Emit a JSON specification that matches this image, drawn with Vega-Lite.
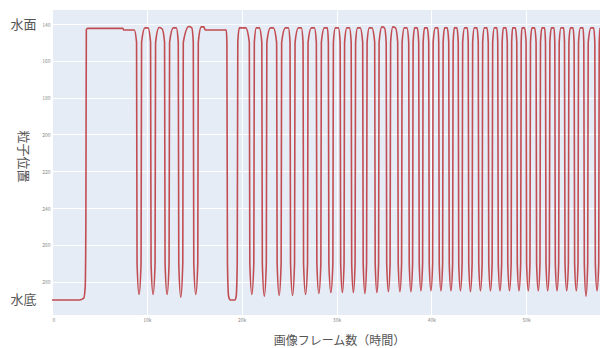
{
  "$schema": "https://vega.github.io/schema/vega-lite/v6.json",
  "autosize": "none",
  "padding": {"left": 52, "top": 10, "right": 0, "bottom": 33},
  "width": 548,
  "height": 305,
  "background": "white",
  "config": {
    "view": {"stroke": null, "fill": "#E5ECF6"},
    "font": "Noto Sans CJK JP"
  },
  "data": {"values": [
    {"f":0,"p":290},{"f":2900,"p":290},{"f":3350,"p":289},{"f":3500,"p":283},{"f":3570,"p":250},{"f":3620,"p":143},{"f":3750,"p":142.3},
    {"f":7459,"p":142.3},{"f":7564,"p":143.2},{"f":8672,"p":143.2},
    {"f":8915,"p":150},{"f":8968,"p":270},{"f":9179,"p":287},{"f":9390,"p":270},{"f":9443,"p":150},
    {"f":9801,"p":142},{"f":10117,"p":142},
    {"f":10392,"p":150},{"f":10445,"p":270},{"f":10656,"p":287},{"f":10867,"p":270},{"f":10920,"p":150},
    {"f":11289,"p":141.8},{"f":11605,"p":142.5},
    {"f":11869,"p":150},{"f":11922,"p":270},{"f":12133,"p":287},{"f":12344,"p":270},{"f":12397,"p":150},
    {"f":12787,"p":142},{"f":13103,"p":142},
    {"f":13314,"p":150},{"f":13367,"p":270},{"f":13578,"p":288.5},{"f":13789,"p":270},{"f":13842,"p":150},
    {"f":14422,"p":141.3},{"f":14738,"p":142},
    {"f":14896,"p":150},{"f":14949,"p":270},{"f":15160,"p":287},{"f":15371,"p":270},{"f":15424,"p":150},
    {"f":15741,"p":141.5},{"f":16004,"p":141.5},{"f":16163,"p":143.2},{"f":18378,"p":143.2},
    {"f":18440,"p":150},{"f":18500,"p":270},{"f":18620,"p":288},{"f":18800,"p":290},{"f":19275,"p":290},{"f":19420,"p":288},{"f":19530,"p":270},{"f":19590,"p":150},
    {"f":19750,"p":142},{"f":20435,"p":142},
    {"f":20804,"p":150},{"f":20857,"p":270},{"f":21068,"p":287},{"f":21279,"p":270},{"f":21332,"p":150},
    {"f":21543,"p":142},{"f":21860,"p":142},
    {"f":22123,"p":150},{"f":22176,"p":270},{"f":22387,"p":288},{"f":22598,"p":270},{"f":22651,"p":150},
    {"f":23020,"p":142},{"f":23337,"p":142},
    {"f":23685,"p":150},{"f":23738,"p":270},{"f":23949,"p":287.5},{"f":24160,"p":270},{"f":24213,"p":150},
    {"f":24603,"p":142},{"f":24919,"p":142},
    {"f":25098,"p":150},{"f":25151,"p":270},{"f":25362,"p":287.5},{"f":25573,"p":270},{"f":25626,"p":150},
    {"f":25974,"p":142},{"f":26291,"p":142},
    {"f":26470,"p":150},{"f":26523,"p":270},{"f":26734,"p":287},{"f":26945,"p":270},{"f":26998,"p":150},
    {"f":27346,"p":142},{"f":27662,"p":142},
    {"f":27873,"p":150},{"f":27926,"p":270},{"f":28137,"p":286.5},{"f":28348,"p":270},{"f":28401,"p":150},
    {"f":28717,"p":142},{"f":29034,"p":142},
    {"f":29139,"p":150},{"f":29192,"p":270},{"f":29403,"p":286},{"f":29614,"p":270},{"f":29667,"p":150},
    {"f":29878,"p":142},{"f":30194,"p":142},
    {"f":30384,"p":150},{"f":30437,"p":270},{"f":30616,"p":286},{"f":30795,"p":270},{"f":30848,"p":150},
    {"f":31091,"p":142},{"f":31365,"p":142},
    {"f":31545,"p":150},{"f":31598,"p":270},{"f":31777,"p":286},{"f":31956,"p":270},{"f":32009,"p":150},
    {"f":32220,"p":142},{"f":32494,"p":142},
    {"f":32758,"p":150},{"f":32811,"p":270},{"f":32990,"p":286.5},{"f":33169,"p":270},{"f":33222,"p":150},
    {"f":33454,"p":142},{"f":33728,"p":142},
    {"f":34024,"p":150},{"f":34077,"p":270},{"f":34256,"p":286},{"f":34435,"p":270},{"f":34488,"p":150},
    {"f":34783,"p":141.5},{"f":35058,"p":142},
    {"f":35237,"p":150},{"f":35290,"p":270},{"f":35469,"p":285.5},{"f":35648,"p":270},{"f":35701,"p":150},
    {"f":35944,"p":141.5},{"f":36218,"p":142},
    {"f":36450,"p":150},{"f":36503,"p":270},{"f":36682,"p":285.5},{"f":36861,"p":270},{"f":36914,"p":150},
    {"f":37147,"p":142},{"f":37421,"p":142},
    {"f":37611,"p":150},{"f":37664,"p":270},{"f":37843,"p":285.5},{"f":38022,"p":270},{"f":38075,"p":150},
    {"f":38233,"p":142},{"f":38508,"p":142},
    {"f":38666,"p":150},{"f":38719,"p":270},{"f":38898,"p":285},{"f":39077,"p":270},{"f":39130,"p":150},
    {"f":39288,"p":142},{"f":39563,"p":142},
    {"f":39721,"p":150},{"f":39774,"p":270},{"f":39953,"p":285},{"f":40132,"p":270},{"f":40185,"p":150},
    {"f":40417,"p":142},{"f":40691,"p":142},
    {"f":40776,"p":150},{"f":40829,"p":270},{"f":41008,"p":285},{"f":41187,"p":270},{"f":41240,"p":150},
    {"f":41398,"p":142},{"f":41673,"p":142},
    {"f":41831,"p":150},{"f":41884,"p":270},{"f":42063,"p":285},{"f":42242,"p":270},{"f":42295,"p":150},
    {"f":42422,"p":142},{"f":42696,"p":142},
    {"f":42833,"p":150},{"f":42886,"p":270},{"f":43065,"p":285},{"f":43244,"p":270},{"f":43297,"p":150},
    {"f":43508,"p":142},{"f":43783,"p":142},
    {"f":43888,"p":150},{"f":43941,"p":270},{"f":44120,"p":285.5},{"f":44299,"p":270},{"f":44352,"p":150},
    {"f":44532,"p":142},{"f":44806,"p":142},
    {"f":44943,"p":150},{"f":44996,"p":270},{"f":45175,"p":285},{"f":45354,"p":270},{"f":45407,"p":150},
    {"f":45587,"p":142},{"f":45861,"p":142},
    {"f":45998,"p":150},{"f":46051,"p":270},{"f":46230,"p":285},{"f":46409,"p":270},{"f":46462,"p":150},
    {"f":46642,"p":142},{"f":46916,"p":142},
    {"f":47000,"p":150},{"f":47053,"p":270},{"f":47232,"p":285},{"f":47411,"p":270},{"f":47464,"p":150},
    {"f":47591,"p":142},{"f":47865,"p":142},
    {"f":48003,"p":150},{"f":48056,"p":270},{"f":48235,"p":285},{"f":48414,"p":270},{"f":48467,"p":150},
    {"f":48572,"p":142},{"f":48847,"p":142},
    {"f":49005,"p":150},{"f":49058,"p":270},{"f":49237,"p":285},{"f":49416,"p":270},{"f":49469,"p":150},
    {"f":49553,"p":142},{"f":49828,"p":142},
    {"f":49986,"p":150},{"f":50039,"p":270},{"f":50218,"p":285},{"f":50397,"p":270},{"f":50450,"p":150},
    {"f":50608,"p":142},{"f":50883,"p":142},
    {"f":51041,"p":150},{"f":51094,"p":270},{"f":51273,"p":285},{"f":51452,"p":270},{"f":51505,"p":150},
    {"f":51663,"p":142},{"f":51938,"p":142},
    {"f":52033,"p":150},{"f":52086,"p":270},{"f":52265,"p":285},{"f":52444,"p":270},{"f":52497,"p":150},
    {"f":52655,"p":142},{"f":52929,"p":142},
    {"f":53014,"p":150},{"f":53067,"p":270},{"f":53246,"p":285},{"f":53425,"p":270},{"f":53478,"p":150},
    {"f":53668,"p":142},{"f":53942,"p":142},
    {"f":54037,"p":150},{"f":54090,"p":270},{"f":54269,"p":285},{"f":54448,"p":270},{"f":54501,"p":150},
    {"f":54660,"p":142},{"f":54934,"p":142},
    {"f":55050,"p":150},{"f":55103,"p":270},{"f":55282,"p":285},{"f":55461,"p":270},{"f":55514,"p":150},
    {"f":55715,"p":142},{"f":55989,"p":142},
    {"f":56073,"p":150},{"f":56126,"p":270},{"f":56305,"p":288},{"f":56484,"p":270},{"f":56537,"p":150},
    {"f":56833,"p":142},{"f":57107,"p":142},
    {"f":57234,"p":150},{"f":57287,"p":270},{"f":57466,"p":285},{"f":57645,"p":270},{"f":57698,"p":150},
    {"f":57800,"p":142}
  ]},
  "resolve": {"axis": {"y": "independent"}},
  "layer": [
    {
      "mark": {"type": "line", "interpolate": "monotone", "clip": true, "color": "#bb3035", "strokeWidth": 1.6, "opacity": 0.85},
      "encoding": {
        "x": {
          "field": "f", "type": "quantitative",
          "scale": {"domain": [0, 57780], "nice": false, "zero": false},
          "axis": {
            "values": [0, 10000, 20000, 30000, 40000, 50000],
            "labelExpr": "datum.value == 0 ? '0' : (datum.value / 1000) + 'k'",
            "labelFontSize": 5, "labelColor": "#888", "labelPadding": 2,
            "grid": true, "gridColor": "#ffffff", "gridWidth": 1,
            "domain": false, "ticks": false, "tickSize": 0,
            "title": "画像フレーム数（時間）",
            "titleFontSize": 12, "titleFontWeight": "normal", "titleColor": "#555555",
            "titleX": 287, "titleY": 25, "titleBaseline": "middle", "titleAlign": "center"
          }
        },
        "y": {
          "field": "p", "type": "quantitative",
          "scale": {"domain": [132.3, 298.2], "reverse": true, "nice": false, "zero": false},
          "axis": {
            "orient": "left",
            "values": [140, 160, 180, 200, 220, 240, 260, 280],
            "labelFontSize": 5, "labelColor": "#888", "labelPadding": 2,
            "grid": true, "gridColor": "#ffffff", "gridWidth": 1,
            "domain": false, "ticks": false, "tickSize": 0,
            "title": null
          }
        }
      }
    },
    {
      "mark": {"type": "line", "opacity": 0, "clip": true},
      "encoding": {
        "x": {"field": "f", "type": "quantitative"},
        "y": {
          "field": "p", "type": "quantitative",
          "axis": {
            "orient": "left",
            "values": [140, 290],
            "labelExpr": "datum.value == 140 ? '水面' : '水底'",
            "labelFontSize": 13, "labelColor": "#555555", "labelPadding": 16,
            "labelBaseline": "middle",
            "grid": false, "domain": false, "ticks": false, "tickSize": 0,
            "title": "粒子位置",
            "titleAngle": 90, "titleFontSize": 13, "titleFontWeight": "normal", "titleColor": "#555555",
            "titleX": -30, "titleY": 146, "titleBaseline": "middle", "titleAlign": "center"
          }
        }
      }
    }
  ]
}
